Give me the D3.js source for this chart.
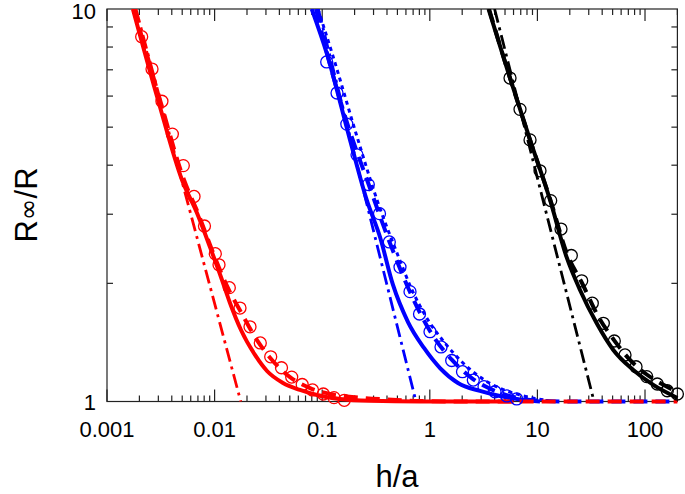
<!DOCTYPE html>
<html><head><meta charset="utf-8">
<script src="https://cdn.jsdelivr.net/npm/d3@7"></script>
<style>body{margin:0;background:#fff}svg{display:block}text{font-family:"Liberation Sans",Arial,sans-serif;fill:#000}</style>
</head><body><svg id="c" width="685" height="494"></svg>
<script>
const xTickValues=[0.001,0.01,0.1,1,10,100];
const xTickLabels=["0.001","0.01","0.1","1","10","100"];
const yTickValues=[1,10];
const yTickLabels=["1","10"];

const redCircles=[[0.00210,8.50],[0.00262,7.03],[0.00324,5.82],[0.00405,4.80],[0.00512,3.99],[0.00644,3.33],[0.00805,2.80],[0.01015,2.38],[0.01099,2.23],[0.01370,1.95],[0.01722,1.73],[0.02133,1.55],[0.02659,1.41],[0.03322,1.30],[0.04184,1.219],[0.05206,1.154],[0.06517,1.105],[0.08126,1.070],[0.1024,1.045],[0.1287,1.023],[0.1604,1.007]];
const blueCircles=[[0.1101,7.33],[0.1373,6.11],[0.1693,5.09],[0.2106,4.25],[0.2683,3.57],[0.3407,3.01],[0.4204,2.55],[0.5284,2.20],[0.6546,1.905],[0.8023,1.671],[1.004,1.506],[1.271,1.377],[1.598,1.272],[2.013,1.191],[2.537,1.134],[3.19,1.091],[4.036,1.059],[5.184,1.033],[6.42,1.015]];
const blackCircles=[[5.565,6.67],[6.89,5.55],[8.54,4.64],[10.57,3.87],[13.29,3.25],[16.57,2.75],[20.66,2.355],[25.80,2.03],[32.37,1.78],[40.98,1.582],[51.84,1.426],[65.18,1.314],[82.5,1.226],[103.7,1.157],[130.1,1.108],[161.1,1.065],[200,1.045]];

const redSolid=[[0.00174,10],[0.00298,5.865],[0.00498,3.667],[0.00686,3.021],[0.00906,2.475],[0.01172,2.04],[0.0139,1.782],[0.01759,1.521],[0.02374,1.314],[0.03069,1.196],[0.04321,1.115],[0.06218,1.070],[0.08946,1.039],[0.1463,1.015],[0.278,1.004],[0.811,1.0],[6,1]];
const redDashed=[[0.00178,10],[0.00311,5.865],[0.0052,3.667],[0.00701,3.021],[0.00946,2.432],[0.01276,1.993],[0.01797,1.671],[0.02477,1.434],[0.03416,1.276],[0.0502,1.154],[0.077,1.082],[0.1182,1.045],[0.2151,1.024],[0.4002,1.012],[0.811,1.003],[2.363,1],[200,1]];
const redDashDot=[[0.00186,10],[0.0175,1]];

const blueSolid=[[0.0799,10],[0.1101,7.72],[0.1813,4.64],[0.2592,3.262],[0.3445,2.625],[0.455,1.981],[0.6271,1.594],[0.8833,1.369],[1.244,1.217],[1.828,1.115],[2.927,1.064],[4.492,1.033],[6.89,1.012],[10.57,1.0]];
const blueDashed=[[0.0876,10],[0.112,7.63],[0.1718,5.09],[0.2694,3.583],[0.4222,2.55],[0.6546,1.901],[1.004,1.512],[1.608,1.276],[2.521,1.141],[4.036,1.064],[6.89,1.018],[11.77,1.003],[20.1,1],[200,1]];
const blueDotted=[[0.0914,10],[0.1234,7.72],[0.2151,4.64],[0.3231,3.262],[0.4957,2.389],[0.6834,1.924],[0.9623,1.613],[1.384,1.409],[1.992,1.261],[2.927,1.154],[4.212,1.089],[5.933,1.051],[8.54,1.024],[12.55,1.006]];
const blueDashDot=[[0.092,10],[0.744,1]];

const blackSolid=[[3.512,10],[5.565,6.67],[8.54,4.64],[13.1,3.262],[18.72,2.328],[24.88,1.924],[35.57,1.582],[50.74,1.353],[77.85,1.203],[119.4,1.102],[200,1.021]];
const blackDashed=[[3.55,10],[5.565,6.67],[8.54,4.64],[13.2,3.262],[19.04,2.362],[25.97,2.004],[36.58,1.651],[51.51,1.434],[72.55,1.276],[102.2,1.175],[143.9,1.108],[200,1.057]];
const blackDashDot=[[4.0,10],[33.6,1]];

const L=107,R=677.4,T=9,B=401.5;
const x=d3.scaleLog().domain([0.001,200]).range([L,R]);
const y=d3.scaleLog().domain([1,10]).range([B,T]);
const svg=d3.select("#c");

svg.append("defs").append("clipPath").attr("id","clip").append("rect")
  .attr("x",L).attr("y",T).attr("width",R-L+3).attr("height",B-T+5);

const xMinor=[];
for(let d=0.001;d<150;d*=10){for(let k=2;k<=9;k++){const v=+(d*k).toPrecision(3);if(v<=200)xMinor.push(v);}}
const yMinor=[2,3,4,5,6,7,8,9];

const ax=svg.append("g").attr("stroke","#222").attr("stroke-width",1.2);
xTickValues.forEach(v=>{
  ax.append("line").attr("x1",x(v)).attr("x2",x(v)).attr("y1",B).attr("y2",B-12);
  ax.append("line").attr("x1",x(v)).attr("x2",x(v)).attr("y1",T).attr("y2",T+12);
});
xMinor.forEach(v=>{
  ax.append("line").attr("x1",x(v)).attr("x2",x(v)).attr("y1",B).attr("y2",B-6);
  ax.append("line").attr("x1",x(v)).attr("x2",x(v)).attr("y1",T).attr("y2",T+6);
});
yMinor.forEach(v=>{
  ax.append("line").attr("x1",L).attr("x2",L+6).attr("y1",y(v)).attr("y2",y(v));
  ax.append("line").attr("x1",R).attr("x2",R-6).attr("y1",y(v)).attr("y2",y(v));
});
ax.append("rect").attr("x",L).attr("y",T).attr("width",R-L).attr("height",B-T).attr("fill","none");

xTickValues.forEach((v,i)=>{
  svg.append("text").attr("x",x(v)).attr("y",437).attr("text-anchor","middle")
    .attr("font-size",22).text(xTickLabels[i]);
});
yTickValues.forEach((v,i)=>{
  svg.append("text").attr("x",96).attr("y",Math.max(y(v)+8,19)).attr("text-anchor","end")
    .attr("font-size",22).text(yTickLabels[i]);
});
svg.append("text").attr("x",397).attr("y",487).attr("text-anchor","middle")
  .attr("font-size",31).text("h/a");
const yt=svg.append("text").attr("transform","translate(37,205) rotate(-90)").attr("text-anchor","middle")
  .attr("font-size",31);
yt.append("tspan").text("R");
yt.append("tspan").attr("font-family","DejaVu Sans").attr("font-size",26).text("\u221E");
yt.append("tspan").text("/R");

const line=d3.line().x(d=>x(d[0])).y(d=>y(d[1])).curve(d3.curveMonotoneX);
const g=svg.append("g").attr("clip-path","url(#clip)").attr("fill","none");
function draw(data,color,w,dash){
  const p=g.append("path").datum(data).attr("d",line).attr("stroke",color).attr("stroke-width",w);
  if(dash)p.attr("stroke-dasharray",dash);
}
draw(redDashDot,"#ff0000",2.8,"14,5,3,5");
draw(blueDashDot,"#0000ff",2.8,"14,5,3,5");
draw(blackDashDot,"#000",2.8,"14,5,3,5");
draw(blueDotted,"#0000ff",3,"4,4");
draw(redSolid,"#ff0000",4);
draw(blueSolid,"#0000ff",4);
draw(blackSolid,"#000",4);
draw(blackDashed,"#000",4,"14,8");
draw(blueDashed,"#0000ff",4,"14,8");
draw(redDashed,"#ff0000",4,"14,8");

function circles(data,color){
  svg.append("g").selectAll("circle").data(data).join("circle")
    .attr("cx",d=>x(d[0])).attr("cy",d=>y(d[1])).attr("r",6)
    .attr("fill","none").attr("stroke",color).attr("stroke-width",1.3);
}
circles(redCircles,"#ff0000");
circles(blueCircles,"#0000ff");
circles(blackCircles,"#000");
</script></body></html>
